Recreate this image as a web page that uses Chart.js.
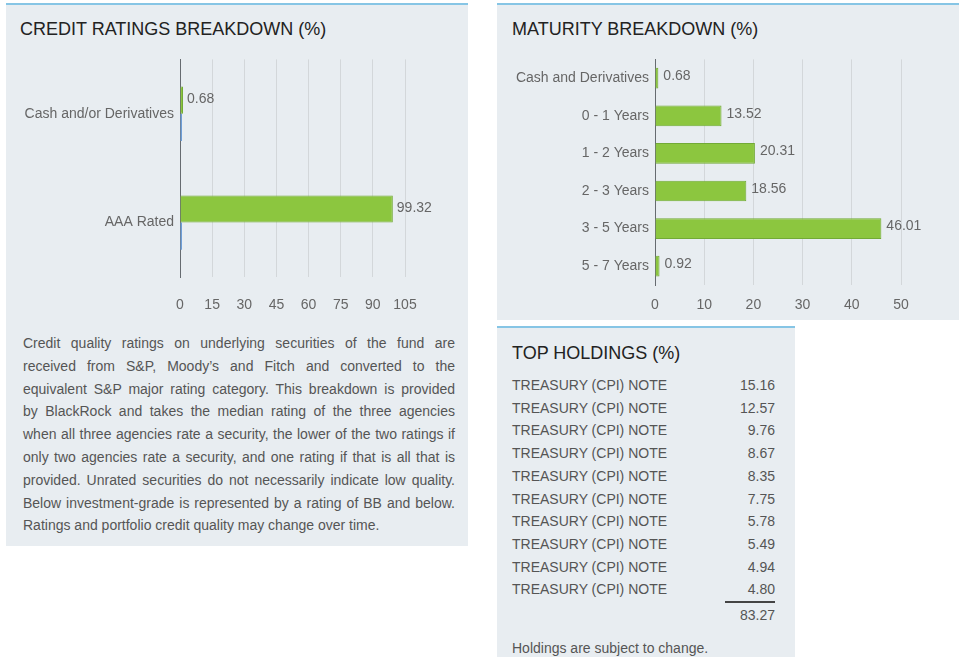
<!DOCTYPE html>
<html>
<head>
<meta charset="utf-8">
<script src="https://cdn.jsdelivr.net/npm/chart.js@4.4.1/dist/chart.umd.min.js"></script>
<style>
  body { margin: 0; background: #fff; font-family: "Liberation Sans", Arial, sans-serif; }
  #page { position: relative; width: 959px; height: 657px; overflow: hidden; }
  .panel { position: absolute; background: #e8edf1; border-top: 2px solid #86c5e5; box-sizing: border-box; }
  .title { position: absolute; font-size: 18px; line-height: 18px; color: #222; white-space: nowrap; }
  canvas { position: absolute; }
  #note { position: absolute; left: 23px; top: 332px; width: 432px; font-size: 14px; line-height: 22.8px; color: #555; }
  #note div { text-align: justify; text-align-last: justify; }
  #note div.last { text-align-last: left; }
  #holdings { position: absolute; left: 512px; top: 374px; width: 263px; font-size: 14px; line-height: 22.7px; color: #555; }
  #holdings .row { display: flex; justify-content: space-between; }
  .small { position: absolute; font-size: 14px; line-height: 22.7px; color: #555; white-space: nowrap; }
</style>
</head>
<body>
<div id="page">
  <div class="panel" style="left:6px; top:3px; width:462px; height:543px;"></div>
  <div class="panel" style="left:497px; top:3px; width:462px; height:317px;"></div>
  <div class="panel" style="left:497px; top:326px; width:298px; height:331px;"></div>

  <div class="title" style="left:20px; top:20px;">CREDIT RATINGS BREAKDOWN (%)</div>
  <div class="title" style="left:512px; top:20px;">MATURITY BREAKDOWN (%)</div>
  <div class="title" style="left:512px; top:344px;">TOP HOLDINGS (%)</div>

  <canvas id="credit" width="462" height="272" style="left:6px; top:45px;"></canvas>
  <canvas id="maturity" width="462" height="280" style="left:497px; top:45px;"></canvas>

  <div id="note"></div>
  <div id="holdings"></div>
  <div style="position:absolute; left:725px; top:601px; width:50px; height:2px; background:#444;"></div>
  <div class="small" id="total" style="left:675px; width:100px; text-align:right; top:604px;"></div>
  <div class="small" style="left:512px; top:637px;">Holdings are subject to change.</div>
</div>

<script>
// credit ratings
var creditLabels = ['Cash and/or Derivatives', 'AAA Rated'];
var creditValues = [0.68, 99.32];
var creditOther = [0, 0];
var creditTicks = [0, 15, 30, 45, 60, 75, 90, 105];

// maturity
var maturityLabels = ['Cash and Derivatives', '0 - 1 Years', '1 - 2 Years', '2 - 3 Years', '3 - 5 Years', '5 - 7 Years'];
var maturityValues = [0.68, 13.52, 20.31, 18.56, 46.01, 0.92];
var maturityTicks = [0, 10, 20, 30, 40, 50];

// top holdings
var holdingNames = ['TREASURY (CPI) NOTE', 'TREASURY (CPI) NOTE', 'TREASURY (CPI) NOTE', 'TREASURY (CPI) NOTE',
  'TREASURY (CPI) NOTE', 'TREASURY (CPI) NOTE', 'TREASURY (CPI) NOTE', 'TREASURY (CPI) NOTE',
  'TREASURY (CPI) NOTE', 'TREASURY (CPI) NOTE'];
var holdingValues = [15.16, 12.57, 9.76, 8.67, 8.35, 7.75, 5.78, 5.49, 4.94, 4.80];

var noteLines = [
  'Credit quality ratings on underlying securities of the fund are',
  'received from S&P, Moody\u2019s and Fitch and converted to the',
  'equivalent S&P major rating category. This breakdown is provided',
  'by BlackRock and takes the median rating of the three agencies',
  'when all three agencies rate a security, the lower of the two ratings if',
  'only two agencies rate a security, and one rating if that is all that is',
  'provided. Unrated securities do not necessarily indicate low quality.',
  'Below investment-grade is represented by a rating of BB and below.',
  'Ratings and portfolio credit quality may change over time.'
];

var GREEN = '#8cc63f';
var GREEN_EDGE = '#72aa36';
var TEXT = '#666';

Chart.defaults.font.family = '"Liberation Sans", Arial, sans-serif';
Chart.defaults.font.size = 14;
Chart.defaults.color = TEXT;

// value text right of each green bar
var valueLabels = {
  id: 'valueLabels',
  afterDatasetsDraw: function(chart, args, opts) {
    var ctx = chart.ctx;
    var meta = chart.getDatasetMeta(0);
    var data = chart.data.datasets[0].data;
    ctx.save();
    ctx.font = '14px "Liberation Sans", Arial, sans-serif';
    ctx.fillStyle = TEXT;
    ctx.textBaseline = 'middle';
    ctx.textAlign = 'left';
    meta.data.forEach(function(bar, i) {
      ctx.fillText(data[i].toFixed(2), bar.x + opts.dx, bar.y + opts.dy);
    });
    ctx.restore();
  }
};

function makeOptions(ticks, yWidth, pad, tickPad, catPct, dx, dy) {
  return {
    indexAxis: 'y',
    responsive: false,
    animation: false,
    layout: { padding: pad },
    plugins: {
      legend: { display: false },
      tooltip: { enabled: false },
      valueLabels: { dx: dx, dy: dy }
    },
    datasets: { bar: { categoryPercentage: catPct, barPercentage: 1 } },
    scales: {
      x: {
        min: ticks[0],
        max: ticks[ticks.length - 1],
        afterBuildTicks: function(scale) { scale.ticks = ticks.map(function(v) { return { value: v }; }); },
        grid: { color: '#d3d7da', drawTicks: false },
        border: { display: false },
        ticks: { padding: tickPad, color: TEXT, maxRotation: 0 },
        afterFit: function(scale) { scale.height = 40; }
      },
      y: {
        grid: { display: false, drawTicks: false },
        border: { display: true, color: '#666b70', width: 1 },
        ticks: { padding: 6, color: TEXT },
        afterFit: function(scale) { scale.width = yWidth; }
      }
    }
  };
}

new Chart(document.getElementById('credit'), {
  type: 'bar',
  data: {
    labels: creditLabels,
    datasets: [
      { data: creditValues, backgroundColor: GREEN, borderColor: GREEN_EDGE, borderWidth: 1, minBarLength: 3 },
      { data: creditOther, backgroundColor: '#6f9fd8', borderWidth: 0, minBarLength: 2 }
    ]
  },
  options: makeOptions(creditTicks, 174, { top: 12, right: 63, bottom: 0, left: 0 }, 20, 0.5, 4, -1),
  plugins: [valueLabels]
});

new Chart(document.getElementById('maturity'), {
  type: 'bar',
  data: {
    labels: maturityLabels,
    datasets: [
      { data: maturityValues, backgroundColor: GREEN, borderColor: GREEN_EDGE, borderWidth: 1 }
    ]
  },
  options: makeOptions(maturityTicks, 158, { top: 13, right: 58, bottom: 0, left: 0 }, 12, 0.55, 5, -2),
  plugins: [valueLabels]
});

// text block
var note = document.getElementById('note');
noteLines.forEach(function(line, i) {
  var d = document.createElement('div');
  d.textContent = line;
  if (i === noteLines.length - 1) d.className = 'last';
  note.appendChild(d);
});

// holdings table
var hold = document.getElementById('holdings');
var total = 0;
holdingNames.forEach(function(name, i) {
  var r = document.createElement('div');
  r.className = 'row';
  var a = document.createElement('span');
  a.textContent = name;
  var b = document.createElement('span');
  b.textContent = holdingValues[i].toFixed(2);
  r.appendChild(a);
  r.appendChild(b);
  hold.appendChild(r);
  total += holdingValues[i];
});
document.getElementById('total').textContent = total.toFixed(2);
</script>
</body>
</html>
